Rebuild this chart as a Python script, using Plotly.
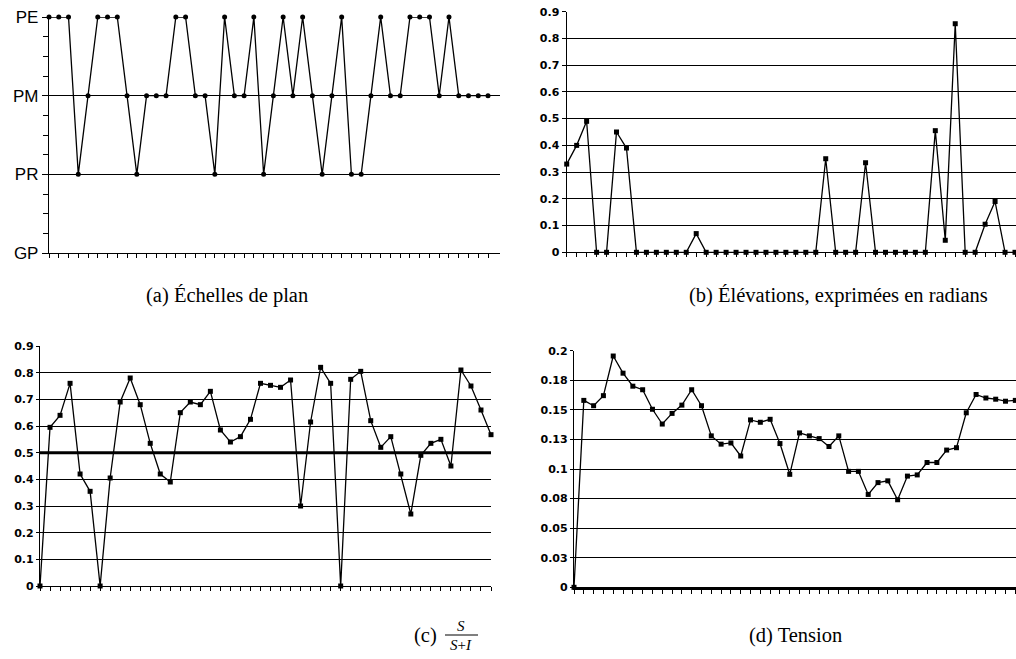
import plotly.graph_objects as go

W, H = 1016, 659

# ---------------- data ----------------
scale_levels = ["GP", "PR", "PM", "PE"]
plan_scales = ["PE", "PE", "PE", "PR", "PM", "PE", "PE", "PE", "PM", "PR",
               "PM", "PM", "PM", "PE", "PE", "PM", "PM", "PR", "PE", "PM",
               "PM", "PE", "PR", "PM", "PE", "PM", "PE", "PM", "PR", "PM",
               "PE", "PR", "PR", "PM", "PE", "PM", "PM", "PE", "PE", "PE",
               "PM", "PE", "PM", "PM", "PM", "PM"]

elevations = [0.33, 0.40, 0.49, 0, 0, 0.45, 0.39, 0, 0, 0,
              0, 0, 0, 0.07, 0, 0, 0, 0, 0, 0,
              0, 0, 0, 0, 0, 0, 0.35, 0, 0, 0,
              0.335, 0, 0, 0, 0, 0, 0, 0.455, 0.045, 0.855,
              0, 0, 0.105, 0.19, 0, 0]

ratio = [0, 0.595, 0.64, 0.76, 0.42, 0.355, 0, 0.405, 0.69, 0.78,
         0.68, 0.535, 0.42, 0.39, 0.65, 0.69, 0.68, 0.73, 0.585, 0.54,
         0.56, 0.625, 0.76, 0.7525, 0.745, 0.7725, 0.30, 0.615, 0.82, 0.76,
         0, 0.775, 0.805, 0.62, 0.52, 0.56, 0.42, 0.27, 0.49, 0.535,
         0.55, 0.45, 0.81, 0.75, 0.66, 0.5675]

tension = [0, 0.158, 0.1535, 0.162, 0.1955, 0.181, 0.170, 0.167, 0.1505, 0.138,
           0.147, 0.154, 0.167, 0.1535, 0.128, 0.121, 0.122, 0.111, 0.1415, 0.1395,
           0.142, 0.1215, 0.0955, 0.1305, 0.128, 0.1257, 0.119, 0.128, 0.098, 0.098,
           0.0785, 0.0885, 0.090, 0.074, 0.094, 0.095, 0.1055, 0.1055, 0.116, 0.118,
           0.1475, 0.163, 0.160, 0.159, 0.1573, 0.158]

ticks_01 = [0, 0.1, 0.2, 0.3, 0.4, 0.5, 0.6, 0.7, 0.8, 0.9]
ticks_01_text = ["0", "0.1", "0.2", "0.3", "0.4", "0.5", "0.6", "0.7", "0.8", "0.9"]
ticks_tension = [0, 0.025, 0.05, 0.075, 0.1, 0.125, 0.15, 0.175, 0.2]
ticks_tension_text = ["0", "0.03", "0.05", "0.08", "0.1", "0.13", "0.15", "0.18", "0.2"]

captions = ["(a) Échelles de plan", "(b) Élévations, exprimées en radians",
            "(c)", "(d) Tension"]

# ---------------- helpers ----------------
def px(x):
    return x / W

def py(y):
    return 1 - y / H

idx = list(range(len(plan_scales)))
plan_y = [scale_levels.index(s) for s in plan_scales]

BLACK = "black"
TICKFONT = dict(family="DejaVu Sans", size=11, color=BLACK, weight="bold")

fig = go.Figure()

def add_series(y, xa, ya, symbol):
    fig.add_trace(go.Scatter(
        x=idx, y=y, xaxis=xa, yaxis=ya, mode="lines+markers",
        line=dict(color=BLACK, width=1.3),
        marker=dict(symbol=symbol, size=5, color=BLACK),
        cliponaxis=False, showlegend=False, hoverinfo="skip"))

add_series(plan_y, "x", "y", "circle")
add_series(elevations, "x2", "y2", "square")
add_series(ratio, "x3", "y3", "square")
add_series(tension, "x4", "y4", "square")

def xaxis(domain, rng, anchor, lw=1.3):
    return dict(domain=domain, range=rng, anchor=anchor, showgrid=False,
                zeroline=False, showline=True, linecolor=BLACK, linewidth=lw,
                tickmode="array", tickvals=idx, ticks="outside", ticklen=4,
                tickcolor=BLACK, tickwidth=1, showticklabels=False, automargin=False)

def yaxis(domain, rng, anchor, tv, tt, font, ticklen=4):
    return dict(domain=domain, range=rng, anchor=anchor, showgrid=True,
                gridcolor=BLACK, gridwidth=1.4, zeroline=False, showline=True,
                linecolor=BLACK, linewidth=1.3, tickmode="array", tickvals=tv,
                ticktext=tt, ticks="outside", ticklen=ticklen, tickcolor=BLACK,
                tickwidth=1.2, tickfont=font, automargin=False)

fig.update_layout(
    template="none",
    width=W, height=H, margin=dict(l=0, r=0, t=0, b=0, pad=0),
    paper_bgcolor="white", plot_bgcolor="white",
    xaxis=xaxis([px(49), px(500)], [0, 46.23], "y"),
    yaxis=dict(yaxis([py(253), py(17)], [0, 3], "x", [0, 1, 2, 3], scale_levels,
                     dict(family="Liberation Sans", size=17, color=BLACK), ticklen=6),
               minor=dict(dtick=0.25, tick0=0, ticks="outside", ticklen=5,
                          tickcolor=BLACK, showgrid=False)),
    xaxis2=xaxis([px(566.7), 1.0], [0, 45.1], "y2"),
    yaxis2=yaxis([py(252.3), py(11.7)], [0, 0.9], "x2", ticks_01, ticks_01_text, TICKFONT),
    xaxis3=xaxis([px(40), px(491)], [0, 45], "y3"),
    yaxis3=yaxis([py(586), py(346)], [0, 0.9], "x3", ticks_01, ticks_01_text, TICKFONT, ticklen=3),
    xaxis4=xaxis([px(574), 1.0], [0, 45.07], "y4", lw=2.5),
    yaxis4=yaxis([py(587.3), py(350.7)], [0, 0.2], "x4", ticks_tension, ticks_tension_text, TICKFONT, ticklen=3),
)

# thick 0.5 gridline in panel (c)
fig.add_shape(type="line", xref="x3 domain", yref="y3", x0=0, x1=1, y0=0.5, y1=0.5,
              line=dict(color=BLACK, width=3), layer="below")

CAP = dict(family="Liberation Serif", size=20.5, color=BLACK)
fig.add_annotation(x=px(227), y=py(296), xref="paper", yref="paper", text=captions[0],
                   showarrow=False, font=CAP, xanchor="center", yanchor="middle")
fig.add_annotation(x=px(838), y=py(296), xref="paper", yref="paper", text=captions[1],
                   showarrow=False, font=CAP, xanchor="center", yanchor="middle")
fig.add_annotation(x=px(439), y=py(635), xref="paper", yref="paper", text=captions[2],
                   showarrow=False, font=CAP, xanchor="right", yanchor="middle")
fig.add_annotation(x=px(795), y=py(635), xref="paper", yref="paper", text=captions[3],
                   showarrow=False, font=CAP, xanchor="center", yanchor="middle")
# fraction S / (S+I)
FR = dict(family="Liberation Serif", size=15, color=BLACK)
fig.add_annotation(x=px(461), y=py(626), xref="paper", yref="paper", text="<i>S</i>",
                   showarrow=False, font=FR, xanchor="center", yanchor="middle")
fig.add_annotation(x=px(461), y=py(645), xref="paper", yref="paper", text="<i>S</i>+<i>I</i>",
                   showarrow=False, font=FR, xanchor="center", yanchor="middle")
fig.add_shape(type="line", xref="paper", yref="paper", x0=px(445), x1=px(478),
              y0=py(635), y1=py(635), line=dict(color=BLACK, width=1))

fig.write_html("out.html", config={"displayModeBar": False},
               post_script="document.body.style.margin='0';document.body.style.overflow='hidden';")
